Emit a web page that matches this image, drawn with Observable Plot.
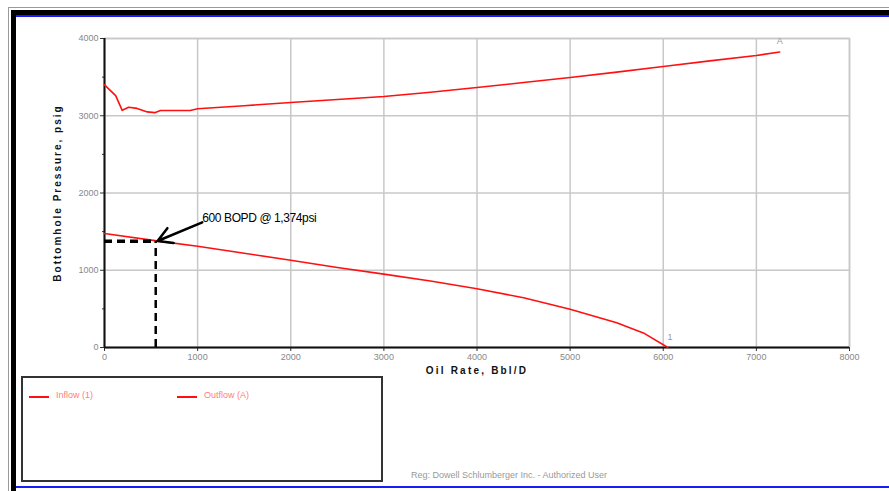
<!DOCTYPE html>
<html>
<head>
<meta charset="utf-8">
<script src="https://cdn.jsdelivr.net/npm/d3@7"></script>
<script src="https://cdn.jsdelivr.net/npm/@observablehq/plot@0.6"></script>
<style>
  html, body { margin: 0; padding: 0; background: #ffffff; }
  #wrap { position: relative; width: 889px; height: 491px; overflow: hidden; font-family: "Liberation Sans", Arial, sans-serif; }
  #wrap svg { position: absolute; left: 0; top: 0; background: transparent; }
  .abs { position: absolute; pointer-events: none; }
</style>
</head>
<body>
<div id="wrap">
  <div class="abs" style="left:8px;top:7px;width:900px;height:1px;background:#9a9a9a"></div>
  <div class="abs" style="left:8px;top:7px;width:1px;height:500px;background:#9a9a9a"></div>
  <div class="abs" style="left:11px;top:10px;width:900px;height:5px;background:#000"></div>
  <div class="abs" style="left:11px;top:10px;width:5px;height:500px;background:#000"></div>
  <div class="abs" style="left:16px;top:15px;width:900px;height:2px;background:#1a1aff"></div>
  <div class="abs" style="left:16px;top:486px;width:900px;height:2px;background:#1a1aff"></div>
</div>
<script>
// ---- data ----
const inflowRate     = [0, 600, 1000, 1500, 2000, 2500, 3000, 3500, 4000, 4500, 5000, 5500, 5800, 6050];
const inflowPressure = [1476, 1374, 1310, 1220, 1130, 1035, 950, 860, 760, 645, 495, 320, 180, 0];

const outflowRate     = [0, 120, 190, 260, 350, 460, 540, 600, 920, 1000, 1500, 2000, 2500, 3000, 3500, 4000, 4500, 5000, 5500, 6000, 6500, 7000, 7250];
const outflowPressure = [3400, 3260, 3070, 3110, 3095, 3050, 3040, 3068, 3068, 3090, 3130, 3172, 3210, 3250, 3305, 3366, 3430, 3495, 3565, 3638, 3710, 3780, 3825];

const xTicks = [0, 1000, 2000, 3000, 4000, 5000, 6000, 7000, 8000];
const yTicks = [0, 1000, 2000, 3000, 4000];
const yMinorTicks = [500, 1500, 2500, 3500];

const operatingRate = 550;
const operatingPressure = 1374;
const annotationText = "600 BOPD @ 1,374psi";
const annotationAt = [1050, 1680];

const seriesNames = ["Inflow (1)", "Outflow (A)"];
const curveLabels = [{x: 6050, y: 130, t: "1"}, {x: 7229, y: 3965, t: "A"}];
const yLabel = "Bottomhole Pressure, psig";
const xLabel = "Oil Rate, Bbl/D";
const footerText = "Reg: Dowell Schlumberger Inc. - Authorized User";

// ---- build ----
const inflow = inflowRate.map((r, i) => ({rate: r, p: inflowPressure[i]}));
const outflow = outflowRate.map((r, i) => ({rate: r, p: outflowPressure[i]}));
const grid = "#c8c8c8";

const chart = Plot.plot({
  width: 889,
  height: 491,
  marginLeft: 104,
  marginRight: 40,
  marginTop: 38,
  marginBottom: 144,
  style: {fontFamily: "'Liberation Sans', Arial, sans-serif", background: "transparent"},
  x: {domain: [0, 8000]},
  y: {domain: [0, 4000]},
  marks: [
    Plot.gridX(xTicks, {stroke: grid, strokeOpacity: 1, strokeWidth: 1.5}),
    Plot.gridY(yTicks, {stroke: grid, strokeOpacity: 1, strokeWidth: 1.5}),
    Plot.frame({stroke: grid, strokeWidth: 1.5}),
    Plot.axisX(xTicks, {tickSize: 4, tickPadding: 2, fontSize: 9, color: "#333", fill: "#888", label: null, tickFormat: d => String(d)}),
    Plot.axisY(yTicks, {tickSize: 4, tickPadding: 2, fontSize: 9, color: "#333", fill: "#888", label: null, tickFormat: d => String(d)}),
    Plot.axisY(yMinorTicks, {tickSize: 2, tickFormat: () => "", label: null, color: "#333"}),
    Plot.ruleX([0], {stroke: "#111", strokeWidth: 2}),
    Plot.ruleY([0], {stroke: "#111", strokeWidth: 2}),
    Plot.line(outflow, {x: "rate", y: "p", stroke: "#ff1010", strokeWidth: 1.6}),
    Plot.line(inflow, {x: "rate", y: "p", stroke: "#ff1010", strokeWidth: 1.6}),
    Plot.ruleY([operatingPressure], {x1: 0, x2: operatingRate, stroke: "#000", strokeWidth: 3.5, strokeDasharray: "8,5"}),
    Plot.ruleX([operatingRate], {y1: 0, y2: operatingPressure, stroke: "#000", strokeWidth: 2.5, strokeDasharray: "8,5"}),
    Plot.arrow([{x1: annotationAt[0], y1: annotationAt[1] - 60, x2: operatingRate + 20, y2: operatingPressure + 5}],
      {x1: "x1", y1: "y1", x2: "x2", y2: "y2", stroke: "#000", strokeWidth: 2.5, headLength: 10, bend: 0}),
    Plot.text([annotationText], {x: annotationAt[0], y: annotationAt[1], text: d => d, textAnchor: "start", fontSize: 12, fill: "#000"}),
    Plot.text(curveLabels, {x: "x", y: "y", text: "t", fontSize: 9, fill: "#999", dx: 2}),
    Plot.text([yLabel], {frameAnchor: "left", dx: -47, rotate: -90, textAnchor: "middle", fontWeight: "bold", fontSize: 10, fill: "#111"}),
    Plot.text([xLabel], {frameAnchor: "bottom", dy: 26, textAnchor: "middle", fontWeight: "bold", fontSize: 10, fill: "#111"})
  ]
});

// letter spacing tweaks to match the original's spaced lettering
d3.select(chart).selectAll("text").each(function () {
  const t = this.textContent;
  if (t === yLabel) this.setAttribute("letter-spacing", "2");
  else if (t === xLabel) this.setAttribute("letter-spacing", "2.2");
  else if (t === annotationText) this.setAttribute("letter-spacing", "-0.4");
});

const wrap = document.getElementById("wrap");
wrap.insertBefore(chart, wrap.firstChild);

// legend box
const legend = document.createElement("div");
legend.className = "abs";
legend.style.cssText = "left:21px;top:376px;width:358px;height:102px;border:2px solid #333;background:#fff;";
wrap.appendChild(legend);
const legendX = [6, 154];
seriesNames.forEach((name, i) => {
  const sw = document.createElement("div");
  sw.className = "abs";
  sw.style.cssText = `left:${legendX[i]}px;top:18px;width:20px;height:2px;background:#ff1010;`;
  legend.appendChild(sw);
  const tx = document.createElement("div");
  tx.className = "abs";
  tx.textContent = name;
  tx.style.cssText = `left:${legendX[i] + 27}px;top:12px;font-size:9px;color:#ff8080;white-space:nowrap;`;
  legend.appendChild(tx);
});

const foot = document.createElement("div");
foot.className = "abs";
foot.textContent = footerText;
foot.style.cssText = "left:411px;top:470px;font-size:9px;color:#999;white-space:nowrap;";
wrap.appendChild(foot);
</script>
</body>
</html>
